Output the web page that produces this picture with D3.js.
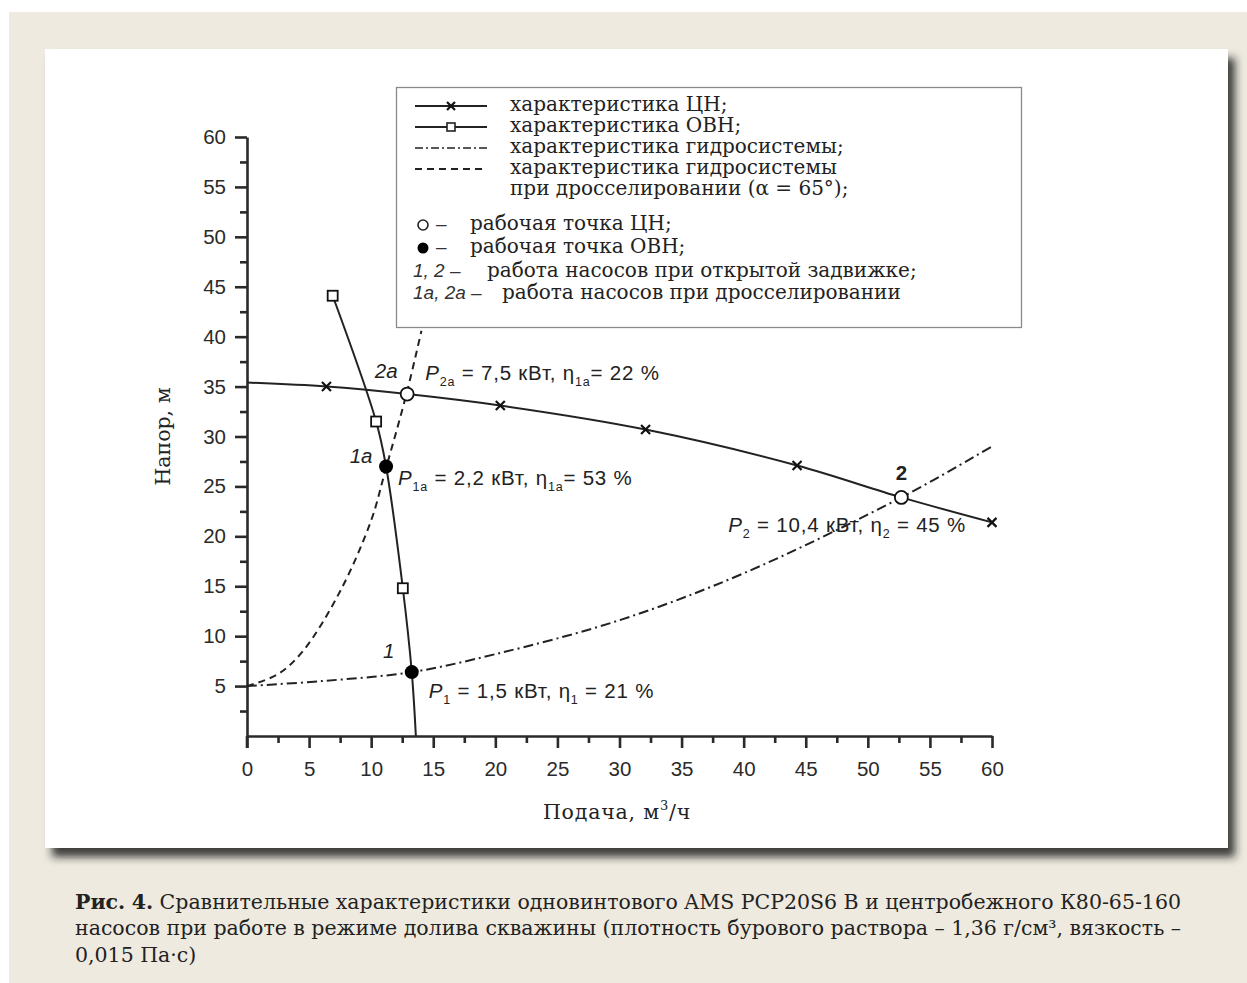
<!DOCTYPE html>
<html>
<head>
<meta charset="utf-8">
<script src="https://cdn.jsdelivr.net/npm/d3@7"></script>
<style>
html,body{margin:0;padding:0;background:#fff;}
svg{display:block;}
</style>
</head>
<body>
<svg id="chart" width="1247" height="983"></svg>
<script>
// ---------------- DATA ----------------
const xTickValues = [0,5,10,15,20,25,30,35,40,45,50,55,60];
const yTickValues = [5,10,15,20,25,30,35,40,45,50,55,60];
const xMinorTicks = [2.5,7.5,12.5,17.5,22.5,27.5,32.5,37.5,42.5,47.5,52.5,57.5];
const yMinorTicks = [2.5,7.5,12.5,17.5,22.5,27.5,32.5,37.5,42.5,47.5,52.5,57.5];

// centrifugal pump (ЦН) head curve
const cnCurve   = [[0,35.4],[6.4,35.0],[12.9,34.25],[20.4,33.1],[32.1,30.7],[44.3,27.1],[52.7,23.9],[60,21.4]];
const cnMarkers = [[6.4,35.0],[20.4,33.1],[32.1,30.7],[44.3,27.1],[60,21.4]];
// screw pump (ОВН) head curve
const ovnCurve   = [[6.9,44.1],[10.4,31.5],[11.2,27.0],[12.55,14.8],[13.27,6.4],[13.6,0]];
const ovnMarkers = [[6.9,44.1],[10.4,31.5],[12.55,14.8]];
// hydraulic system characteristic
const hydroCurve = [[0,5],[6,5.5],[13.27,6.4],[20,8.2],[30,11.6],[40,16.3],[52.7,23.9],[60,29]];
// hydraulic system when throttled (α = 65°)
const throttledCurve = [[0,5],[2.5,6.2],[4.5,8.5],[7.5,14.5],[10,21.6],[11.1,26.4],[12.85,34.3],[14.05,40.6]];

// operating points
const cnPoints  = [[12.9,34.25],[52.7,23.9]];   // 2a, 2
const ovnPoints = [[11.2,27.0],[13.27,6.4]];    // 1a, 1
const pointLabels = ["2a","2","1a","1"];

const legendTexts = [
  "характеристика ЦН;",
  "характеристика ОВН;",
  "характеристика гидросистемы;",
  "характеристика гидросистемы",
  "при дросселировании (α = 65°);",
  "рабочая точка ЦН;",
  "рабочая точка ОВН;",
  "работа насосов при открытой задвижке;",
  "работа насосов при дросселировании"
];
const yAxisTitle = "Напор, м";
const xAxisTitle = ["Подача, м","3","/ч"];
const captionLines = [
  "Рис. 4. Сравнительные характеристики одновинтового AMS PCP20S6 B и центробежного К80-65-160",
  "насосов при работе в режиме долива скважины (плотность бурового раствора – 1,36 г/см³, вязкость –",
  "0,015 Па·с)"
];

// ---------------- DRAW ----------------
const svg = d3.select("#chart");
const defs = svg.append("defs");
const f = defs.append("filter").attr("id","sh").attr("x","-5%").attr("y","-5%").attr("width","115%").attr("height","120%");
f.append("feDropShadow").attr("dx",7).attr("dy",9).attr("stdDeviation",4)
  .attr("flood-color","#1e1e1e").attr("flood-opacity",0.85);

// background
svg.append("rect").attr("x",9).attr("y",12).attr("width",1247-9).attr("height",983-12).attr("fill","#eeeadf");
svg.append("rect").attr("x",45).attr("y",49).attr("width",1183).attr("height",799)
  .attr("fill","#ffffff").attr("filter","url(#sh)");

const x = d3.scaleLinear().domain([0,60]).range([247,992]);
const y = d3.scaleLinear().domain([0,60]).range([736,137]);

const SANS = "'Liberation Sans', Arial, Helvetica, sans-serif";
const SERIF = "'DejaVu Serif', serif";
const ink = "#2a2a2a";

// axes
const gx = svg.append("g").attr("transform",`translate(0,${y(0)})`);
gx.call(d3.axisBottom(x).tickValues(xTickValues).tickSize(12).tickSizeOuter(0).tickPadding(13).tickFormat(d3.format("d")));
const gxm = svg.append("g").attr("transform",`translate(0,${y(0)})`);
gxm.call(d3.axisBottom(x).tickValues(xMinorTicks).tickSize(7).tickSizeOuter(0).tickFormat(""));
const gy = svg.append("g").attr("transform",`translate(${x(0)},0)`);
gy.call(d3.axisLeft(y).tickValues(yTickValues).tickSize(12).tickSizeOuter(0).tickPadding(9).tickFormat(d3.format("d")));
const gym = svg.append("g").attr("transform",`translate(${x(0)},0)`);
gym.call(d3.axisLeft(y).tickValues(yMinorTicks).tickSize(7).tickSizeOuter(0).tickFormat(""));
[gx,gxm,gy,gym].forEach(g=>{
  g.selectAll("path.domain").attr("stroke",ink).attr("stroke-width",2.6);
  g.selectAll(".tick line").attr("stroke",ink).attr("stroke-width",2.6);
  g.selectAll(".tick text").attr("font-family",SANS).attr("font-size",20.5).attr("fill","#2b2b2b");
});
gym.select("path.domain").remove(); gxm.select("path.domain").remove();
// y axis extends down to the 0 tick of x
svg.append("line").attr("x1",x(0)).attr("x2",x(0)).attr("y1",y(0)).attr("y2",y(0)+12)
  .attr("stroke",ink).attr("stroke-width",2.6);

// axis titles
svg.append("text").attr("transform",`translate(170,${(y(60)+y(0))/2}) rotate(-90)`)
  .attr("text-anchor","middle").attr("font-family",SERIF).attr("font-size",20.5).attr("fill","#222")
  .text(yAxisTitle);
const xt = svg.append("text").attr("x",617).attr("y",819).attr("text-anchor","middle")
  .attr("font-family",SERIF).attr("font-size",20.5).attr("fill","#222").attr("letter-spacing",0.8);
xt.append("tspan").text(xAxisTitle[0]);
xt.append("tspan").attr("font-size",13).attr("dy",-9).text(xAxisTitle[1]);
xt.append("tspan").attr("dy",9).text(xAxisTitle[2]);

// curves
const line = d3.line().x(d=>x(d[0])).y(d=>y(d[1])).curve(d3.curveCatmullRom.alpha(0.5));
const plot = svg.append("g");
plot.append("path").datum(hydroCurve).attr("d",line).attr("fill","none").attr("stroke","#222")
  .attr("stroke-width",2).attr("stroke-dasharray","10,4,2,4");
plot.append("path").datum(throttledCurve).attr("d",line).attr("fill","none").attr("stroke","#222")
  .attr("stroke-width",2).attr("stroke-dasharray","7,5");
plot.append("path").datum(cnCurve).attr("d",line).attr("fill","none").attr("stroke","#222").attr("stroke-width",2);
plot.append("path").datum(ovnCurve).attr("d",line).attr("fill","none").attr("stroke","#222").attr("stroke-width",2);

// markers
function cross(g, cx, cy, s){
  g.append("path").attr("d",`M${cx-s},${cy-s}L${cx+s},${cy+s}M${cx-s},${cy+s}L${cx+s},${cy-s}`)
   .attr("stroke","#111").attr("stroke-width",2.2).attr("fill","none");
}
cnMarkers.forEach(d=>cross(plot, x(d[0]), y(d[1]), 4.5));
plot.selectAll("rect.sq").data(ovnMarkers).join("rect").attr("class","sq")
  .attr("x",d=>x(d[0])-5).attr("y",d=>y(d[1])-5).attr("width",10).attr("height",10)
  .attr("fill","#fff").attr("stroke","#111").attr("stroke-width",1.8);
plot.selectAll("circle.cn").data(cnPoints).join("circle").attr("class","cn")
  .attr("cx",d=>x(d[0])).attr("cy",d=>y(d[1])).attr("r",6.5)
  .attr("fill","#fff").attr("stroke","#111").attr("stroke-width",1.8);
plot.selectAll("circle.ovn").data(ovnPoints).join("circle").attr("class","ovn")
  .attr("cx",d=>x(d[0])).attr("cy",d=>y(d[1])).attr("r",7)
  .attr("fill","#000");

// point labels
const allPts = [cnPoints[0],cnPoints[1],ovnPoints[0],ovnPoints[1]];
const lblOff = [[-21,-16,"italic","normal"],[0,-17,"normal","bold"],[-25,-3,"italic","normal"],[-23,-14,"italic","normal"]];
allPts.forEach((p,i)=>{
  svg.append("text").attr("x",x(p[0])+lblOff[i][0]).attr("y",y(p[1])+lblOff[i][1])
    .attr("text-anchor","middle").attr("font-family",SANS).attr("font-size",20.5)
    .attr("font-style",lblOff[i][2]).attr("font-weight",lblOff[i][3]).attr("fill","#222")
    .text(pointLabels[i]);
});

// power / efficiency annotations
const annos = [
  {p:cnPoints[0], dx:18, dy:-14, parts:[["P","i"],["2a","s"],[" = 7,5 кВт, η",""],["1a","s"],["= 22 %",""]]},
  {p:ovnPoints[0], dx:12, dy:19, parts:[["P","i"],["1a","s"],[" = 2,2 кВт, η",""],["1a","s"],["= 53 %",""]]},
  {p:cnPoints[1], dx:-173, dy:35, parts:[["P","i"],["2","s"],[" = 10,4 кВт, η",""],["2","s"],[" = 45 %",""]]},
  {p:ovnPoints[1], dx:17, dy:26, parts:[["P","i"],["1","s"],[" = 1,5 кВт, η",""],["1","s"],[" = 21 %",""]]}
];
annos.forEach(a=>{
  const t = svg.append("text").attr("x",x(a.p[0])+a.dx).attr("y",y(a.p[1])+a.dy)
    .attr("font-family",SANS).attr("font-size",20.5).attr("letter-spacing",0.8).attr("fill","#222");
  let sub=false;
  a.parts.forEach(pt=>{
    const ts = t.append("tspan").text(pt[0]).attr("xml:space","preserve");
    if(pt[1]==="i") ts.attr("font-style","italic");
    if(pt[1]==="s"){ ts.attr("font-size",12.5).attr("dy",6); sub=true; }
    else if(sub){ ts.attr("dy",-6); sub=false; }
  });
});

// legend
const lg = svg.append("g");
lg.append("rect").attr("x",396.5).attr("y",87.5).attr("width",625).attr("height",240)
  .attr("fill","#fff").attr("stroke","#8a8a8a").attr("stroke-width",1.3);
const rowBase = [111,132,153,174,195,230,253,277,299];
const lx1 = 415, lx2 = 487, lxm = 451;
const legendStyle = (g)=>g.attr("font-family",SERIF).attr("font-size",20).attr("fill","#222");
[0,1,2,3,4].forEach(i=>{
  legendStyle(lg.append("text").attr("x",510).attr("y",rowBase[i])).text(legendTexts[i]);
});
const symY = i=>rowBase[i]-5;
lg.append("line").attr("x1",lx1).attr("x2",lx2).attr("y1",symY(0)).attr("y2",symY(0)).attr("stroke","#222").attr("stroke-width",2);
cross(lg, lxm, symY(0), 4);
lg.append("line").attr("x1",lx1).attr("x2",lx2).attr("y1",symY(1)).attr("y2",symY(1)).attr("stroke","#222").attr("stroke-width",2);
lg.append("rect").attr("x",lxm-4).attr("y",symY(1)-4).attr("width",8).attr("height",8).attr("fill","#fff").attr("stroke","#222").attr("stroke-width",1.6);
lg.append("line").attr("x1",lx1).attr("x2",lx2).attr("y1",symY(2)).attr("y2",symY(2)).attr("stroke","#222").attr("stroke-width",1.6).attr("stroke-dasharray","8,3,2,3");
lg.append("line").attr("x1",lx1).attr("x2",lx2).attr("y1",symY(3)).attr("y2",symY(3)).attr("stroke","#222").attr("stroke-width",1.8).attr("stroke-dasharray","7,5");
lg.append("circle").attr("cx",423).attr("cy",symY(5)).attr("r",5).attr("fill","#fff").attr("stroke","#222").attr("stroke-width",1.6);
lg.append("circle").attr("cx",423).attr("cy",symY(6)).attr("r",5.5).attr("fill","#000");
[5,6].forEach(i=>{
  lg.append("text").attr("x",436).attr("y",rowBase[i]).attr("font-family",SANS).attr("font-size",19).attr("fill","#333").text("–");
  legendStyle(lg.append("text").attr("x",470).attr("y",rowBase[i])).text(legendTexts[i]);
});
lg.append("text").attr("x",413).attr("y",rowBase[7]).attr("font-family",SANS).attr("font-size",19).attr("font-style","italic").attr("fill","#333").text("1, 2 –");
legendStyle(lg.append("text").attr("x",487).attr("y",rowBase[7])).text(legendTexts[7]);
lg.append("text").attr("x",413).attr("y",rowBase[8]).attr("font-family",SANS).attr("font-size",19).attr("font-style","italic").attr("fill","#333").text("1a, 2a –");
legendStyle(lg.append("text").attr("x",502).attr("y",rowBase[8])).text(legendTexts[8]);

// caption, justified
const capX0 = 75, capX1 = 1181, capY = [909,935,962];
captionLines.forEach((ln,li)=>{
  const words = ln.split(" ");
  const g = svg.append("g");
  const nodes = words.map((w,wi)=>{
    const t = g.append("text").attr("y",capY[li]).attr("font-family",SERIF).attr("font-size",20.5).attr("fill","#222")
      .attr("font-weight",(li===0 && wi<2)?"bold":"normal").text(w);
    return t;
  });
  const widths = nodes.map(n=>n.node().getComputedTextLength());
  const total = d3.sum(widths);
  const justify = li < captionLines.length-1;
  const gap = justify ? (capX1-capX0-total)/(words.length-1) : 6.5;
  let cx = capX0;
  nodes.forEach((n,i)=>{ n.attr("x",cx); cx += widths[i]+gap; });
});
</script>
</body>
</html>
